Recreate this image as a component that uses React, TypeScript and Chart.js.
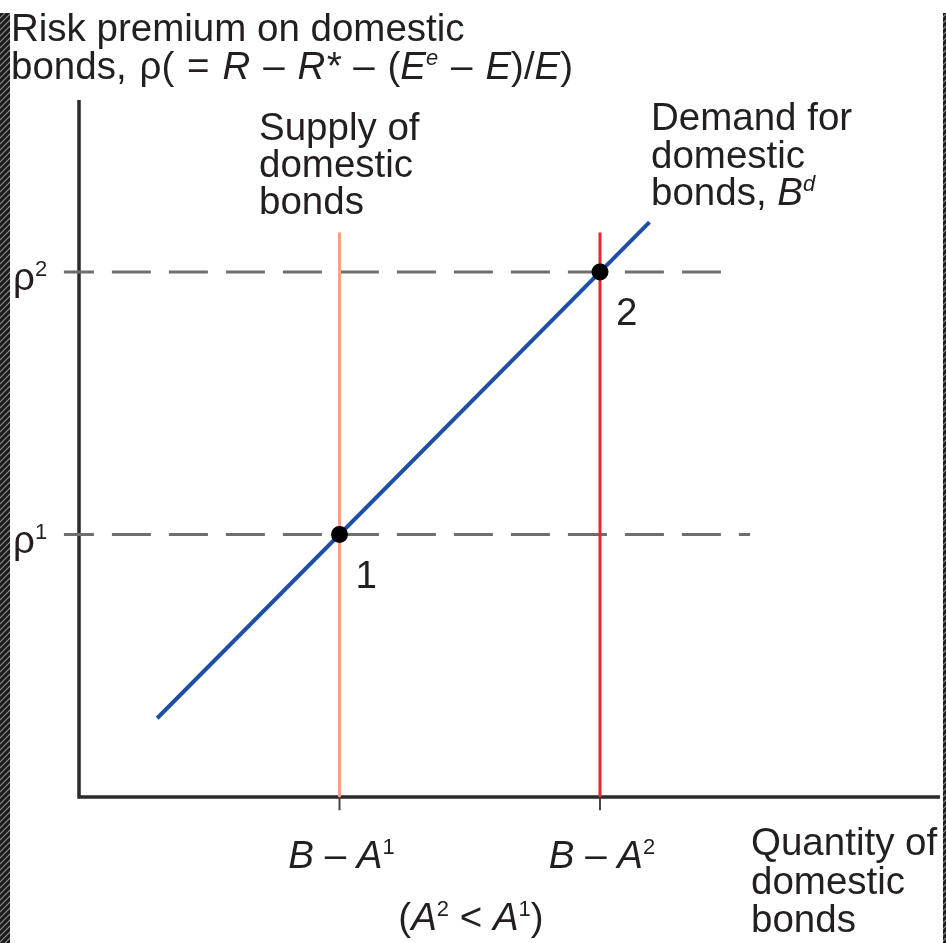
import React, { useEffect, useRef } from "react";
import { Chart, registerables } from "chart.js";
Chart.register(...registerables);

// ---- data (abstract units: x = quantity of bonds, y = risk premium) ----
const supplyPositions = [1, 2]; // B - A^1, B - A^2
const supplyTop = 2.15;
const riskLevels = [1, 2]; // rho^1, rho^2
const riskLineEnds = [2.576, 2.48];
const riskLineStart = -0.058;
const demandX = [0.3, 2.19];
const demandY = [0.3, 2.19];
const equilibriumX = [1, 2];
const equilibriumY = [1, 2];
const equilibriumNames = ["1", "2"];
const yAxisTop = 2.655;
const xAxisRight = 3.305;
const tickBottom = -0.05;

type Seg = { t: string; it?: boolean; sup?: boolean };
const tickLabels: Seg[][] = [
  [{ t: "B", it: true }, { t: " \u2013 " }, { t: "A", it: true }, { t: "1", sup: true }],
  [{ t: "B", it: true }, { t: " \u2013 " }, { t: "A", it: true }, { t: "2", sup: true }],
];
const riskLabels: Seg[][] = [
  [{ t: "\u03c1" }, { t: "1", sup: true }],
  [{ t: "\u03c1" }, { t: "2", sup: true }],
];
const noteLabel: Seg[] = [
  { t: "(" }, { t: "A", it: true }, { t: "2", sup: true }, { t: " < " }, { t: "A", it: true }, { t: "1", sup: true }, { t: ")" },
];
const titleLines: Seg[][] = [
  [{ t: "Risk premium on domestic" }],
  [
    { t: "bonds, \u03c1( = " }, { t: "R", it: true }, { t: " \u2013 " }, { t: "R*", it: true }, { t: " \u2013 (" },
    { t: "E", it: true }, { t: "e", it: true, sup: true }, { t: " \u2013 " }, { t: "E", it: true }, { t: ")/" },
    { t: "E", it: true }, { t: ")" },
  ],
];
const supplyLines: Seg[][] = [[{ t: "Supply of" }], [{ t: "domestic" }], [{ t: "bonds" }]];
const demandLines: Seg[][] = [
  [{ t: "Demand for" }],
  [{ t: "domestic" }],
  [{ t: "bonds, " }, { t: "B", it: true }, { t: "d", it: true, sup: true }],
];
const quantityLines: Seg[][] = [[{ t: "Quantity of" }], [{ t: "domestic" }], [{ t: "bonds" }]];

// ---- style ----
const FONT = '"Liberation Sans", Arial, Helvetica, sans-serif';
const SIZE = 38.5;
const SUP = 22;
const RAISE = 14;
const TEXT = "#231f20";
const W = 946;
const H = 943;

function segFont(s: Seg) {
  return `${s.it ? "italic " : ""}${s.sup ? SUP : SIZE}px ${FONT}`;
}
function drawRich(
  ctx: CanvasRenderingContext2D,
  segs: Seg[],
  x: number,
  y: number,
  align: "left" | "center" = "left",
  extraSpace = 0
) {
  ctx.save();
  ctx.textBaseline = "alphabetic";
  ctx.textAlign = "left";
  const spaceCount = (t: string) => t.split(" ").length - 1;
  let total = 0;
  for (const s of segs) {
    ctx.font = segFont(s);
    total += ctx.measureText(s.t).width + spaceCount(s.t) * extraSpace;
  }
  let cx = align === "center" ? x - total / 2 : x;
  ctx.fillStyle = TEXT;
  for (const s of segs) {
    ctx.font = segFont(s);
    const parts = s.t.split(" ");
    parts.forEach((p, k) => {
      if (p) ctx.fillText(p, cx, s.sup ? y - RAISE : y);
      cx += ctx.measureText(p).width;
      if (k < parts.length - 1) cx += ctx.measureText(" ").width + extraSpace;
    });
  }
  ctx.restore();
}

function hatch(ctx: CanvasRenderingContext2D) {
  const c = document.createElement("canvas");
  c.width = 6;
  c.height = 6;
  const g = c.getContext("2d")!;
  g.fillStyle = "#1c1c1c";
  g.fillRect(0, 0, 6, 6);
  g.strokeStyle = "#8a8a8a";
  g.lineWidth = 1.2;
  g.beginPath();
  g.moveTo(-1, 7);
  g.lineTo(7, -1);
  g.moveTo(-4, 4);
  g.lineTo(4, -4);
  g.moveTo(2, 10);
  g.lineTo(10, 2);
  g.stroke();
  return ctx.createPattern(c, "repeat")!;
}

const decorPlugin = {
  id: "decor",
  beforeDraw(chart: any) {
    const ctx: CanvasRenderingContext2D = chart.ctx;
    ctx.save();
    ctx.fillStyle = hatch(ctx);
    ctx.fillRect(0, 13, 10, H - 13);
    ctx.fillRect(943, 13, 3, H - 13);
    ctx.restore();
  },
  afterDatasetsDraw(chart: any) {
    const ctx: CanvasRenderingContext2D = chart.ctx;
    const xs = chart.scales.x;
    const ys = chart.scales.y;
    // title
    drawRich(ctx, titleLines[0], 11, 41);
    drawRich(ctx, titleLines[1], 11, 79, "left", 2.2);
    // risk labels
    riskLevels.forEach((v, i) => drawRich(ctx, riskLabels[i], 13, ys.getPixelForValue(v) + 18));
    // tick labels
    supplyPositions.forEach((v, i) => drawRich(ctx, tickLabels[i], xs.getPixelForValue(v) + 2, 868, "center"));
    drawRich(ctx, noteLabel, 471, 930, "center");
    // curve labels
    supplyLines.forEach((l, i) => drawRich(ctx, l, 259, 140 + i * 37));
    demandLines.forEach((l, i) => drawRich(ctx, l, 651, 130 + i * 37.5));
    quantityLines.forEach((l, i) => drawRich(ctx, l, 751, 855 + i * 38.5));
    // equilibrium labels
    equilibriumX.forEach((v, i) => {
      drawRich(ctx, [{ t: equilibriumNames[i] }], xs.getPixelForValue(v) + 16, ys.getPixelForValue(equilibriumY[i]) + 53);
    });
  },
};

export default function App() {
  const ref = useRef<HTMLCanvasElement>(null);
  useEffect(() => {
    if (!ref.current) return;
    const line = (data: { x: number; y: number }[], color: string, width: number, extra: any = {}) => ({
      type: "scatter" as const,
      data,
      showLine: true,
      borderColor: color,
      borderWidth: width,
      pointRadius: 0,
      ...extra,
    });
    const datasets: any[] = [
      {
        type: "scatter",
        data: equilibriumX.map((x, i) => ({ x, y: equilibriumY[i] })),
        pointRadius: 8.5,
        pointBackgroundColor: "#000",
        pointBorderWidth: 0,
        showLine: false,
      },
      line(demandX.map((x, i) => ({ x, y: demandY[i] })), "#1d4fa6", 4),
      line([{ x: supplyPositions[1], y: 0 }, { x: supplyPositions[1], y: supplyTop }], "#e5262a", 3),
      line([{ x: supplyPositions[0], y: 0 }, { x: supplyPositions[0], y: supplyTop }], "#f5a08e", 3),
      ...riskLevels.map((v, i) =>
        line([{ x: riskLineStart, y: v }, { x: riskLineEnds[i], y: v }], "#6e6e6e", 3, {
          borderDash: [39, 18],
          borderDashOffset: 9,
        })
      ),
      ...supplyPositions.map((v) => line([{ x: v, y: 0 }, { x: v, y: tickBottom }], "#444", 2)),
      line([{ x: 0, y: yAxisTop }, { x: 0, y: 0 }, { x: xAxisRight, y: 0 }], "#2a2a2a", 3.5, { borderJoinStyle: "miter" }),
    ];
    const chart = new Chart(ref.current, {
      type: "scatter",
      data: { datasets },
      options: {
        responsive: false,
        animation: false,
        events: [],
        layout: { padding: 0, autoPadding: false },
        plugins: { legend: { display: false }, tooltip: { enabled: false }, title: { display: false } },
        scales: {
          x: { type: "linear", min: -0.3033, max: 3.3282, display: false },
          y: { type: "linear", min: -0.556, max: 3.036, display: false },
        },
      },
      plugins: [decorPlugin],
    });
    return () => chart.destroy();
  }, []);
  return (
    <div style={{ position: "absolute", left: 0, top: 0, width: W, height: H, background: "#fff" }}>
      <canvas ref={ref} width={W} height={H} style={{ display: "block", width: W, height: H }} />
    </div>
  );
}
